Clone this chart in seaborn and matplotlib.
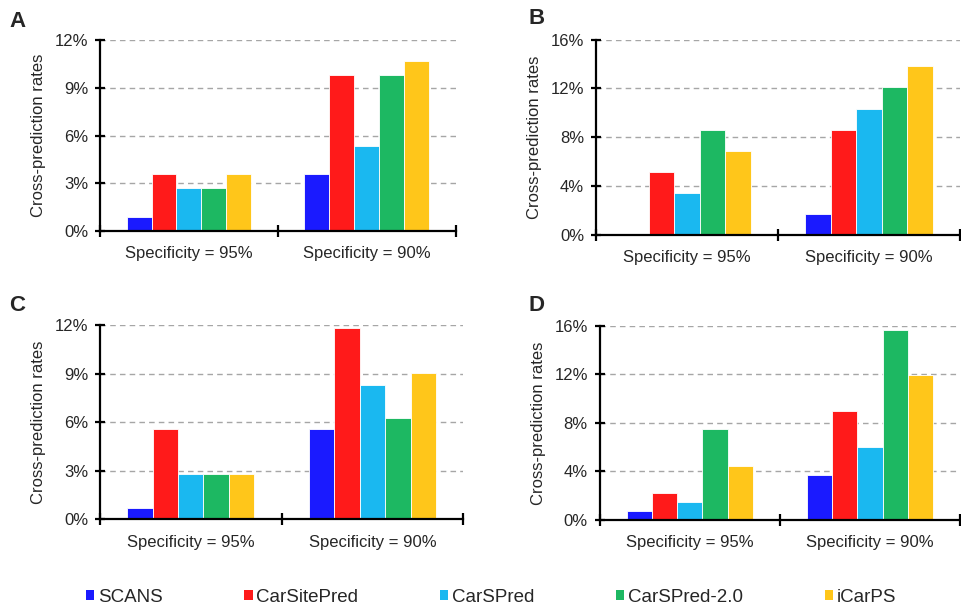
import numpy as np
import pandas as pd
import matplotlib
matplotlib.use("Agg")
import matplotlib.pyplot as plt
import matplotlib.ticker as mticker
from matplotlib.patches import Patch
import seaborn as sns

sns.set_style("white")
plt.rcParams["font.family"] = ["Liberation Sans", "DejaVu Sans"]

methods = ["SCANS", "CarSitePred", "CarSPred", "CarSPred-2.0", "iCarPS"]
colors = ["#1a1aff", "#ff1a1a", "#1ab8f0", "#1db862", "#ffc61a"]
specs = ["Specificity = 95%", "Specificity = 90%"]

# cross-prediction rates (%), one list per specificity level, in method order
rates_a_95 = [0.89, 3.57, 2.68, 2.68, 3.57]
rates_a_90 = [3.57, 9.82, 5.36, 9.82, 10.71]
rates_b_95 = [0.0, 5.17, 3.45, 8.62, 6.90]
rates_b_90 = [1.72, 8.62, 10.34, 12.07, 13.79]
rates_c_95 = [0.69, 5.56, 2.78, 2.78, 2.78]
rates_c_90 = [5.56, 11.81, 8.33, 6.25, 9.03]
rates_d_95 = [0.75, 2.24, 1.49, 7.46, 4.48]
rates_d_90 = [3.73, 8.96, 5.97, 15.67, 11.94]

panels = [
    ("A", rates_a_95, rates_a_90, [0, 3, 6, 9, 12]),
    ("B", rates_b_95, rates_b_90, [0, 4, 8, 12, 16]),
    ("C", rates_c_95, rates_c_90, [0, 3, 6, 9, 12]),
    ("D", rates_d_95, rates_d_90, [0, 4, 8, 12, 16]),
]

# axes rectangles in figure fractions
rects = [
    [0.104, 0.620, 0.370, 0.314],
    [0.620, 0.614, 0.379, 0.321],
    [0.104, 0.146, 0.378, 0.319],
    [0.624, 0.145, 0.375, 0.319],
]
letter_pos = [(0.010, 0.965), (0.550, 0.970), (0.010, 0.498), (0.550, 0.498)]

fig = plt.figure(figsize=(9.61, 6.08), dpi=100)

for (letter, r95, r90, yticks), rect, lp in zip(panels, rects, letter_pos):
    ax = fig.add_axes(rect)
    df = pd.DataFrame({
        "spec": [specs[0]] * len(methods) + [specs[1]] * len(methods),
        "method": methods * 2,
        "rate": r95 + r90,
    })
    sns.barplot(data=df, x="spec", y="rate", hue="method", order=specs,
                hue_order=methods, palette=colors, saturation=1, width=0.7, ax=ax,
                edgecolor="white", linewidth=0.6, legend=False)
    ax.set_xlim(-0.5, 1.5)
    ax.set_ylim(yticks[0], yticks[-1])
    ax.set_yticks(yticks)
    ax.yaxis.set_major_formatter(mticker.FuncFormatter(lambda v, p: f"{v:.0f}%"))
    for yv in yticks[1:]:
        ax.axhline(yv, color="#a6a6a6", linestyle=(0, (4, 3)), linewidth=1.0, zorder=0)
    ax.set_xticks([-0.5, 0.5, 1.5], minor=True)
    ax.tick_params(axis="x", which="major", bottom=True, length=0, labelsize=12, pad=11)
    ax.tick_params(axis="x", which="minor", bottom=True, direction="inout", length=9,
                   width=1.6, color="black")
    ax.tick_params(axis="y", left=True, direction="inout", length=7, width=1.6,
                   color="black", labelsize=12, pad=5)
    ax.set_xlabel("")
    ax.set_ylabel("Cross-prediction rates", fontsize=12, labelpad=6)
    sns.despine(ax=ax)
    for side in ["left", "bottom"]:
        ax.spines[side].set_linewidth(1.6)
        ax.spines[side].set_color("black")
    fig.text(lp[0], lp[1], letter, fontsize=16, fontweight="bold", ha="left", va="center")

handles = [Patch(facecolor=c, edgecolor="none", label=m) for m, c in zip(methods, colors)]
fig.legend(handles=handles, loc="center", bbox_to_anchor=(0.511, 0.018), ncol=5,
           frameon=False, fontsize=13.5, handlelength=0.45, handleheight=0.45,
           handletextpad=0.2, columnspacing=4.35)

fig.savefig("out.png", dpi=100)
